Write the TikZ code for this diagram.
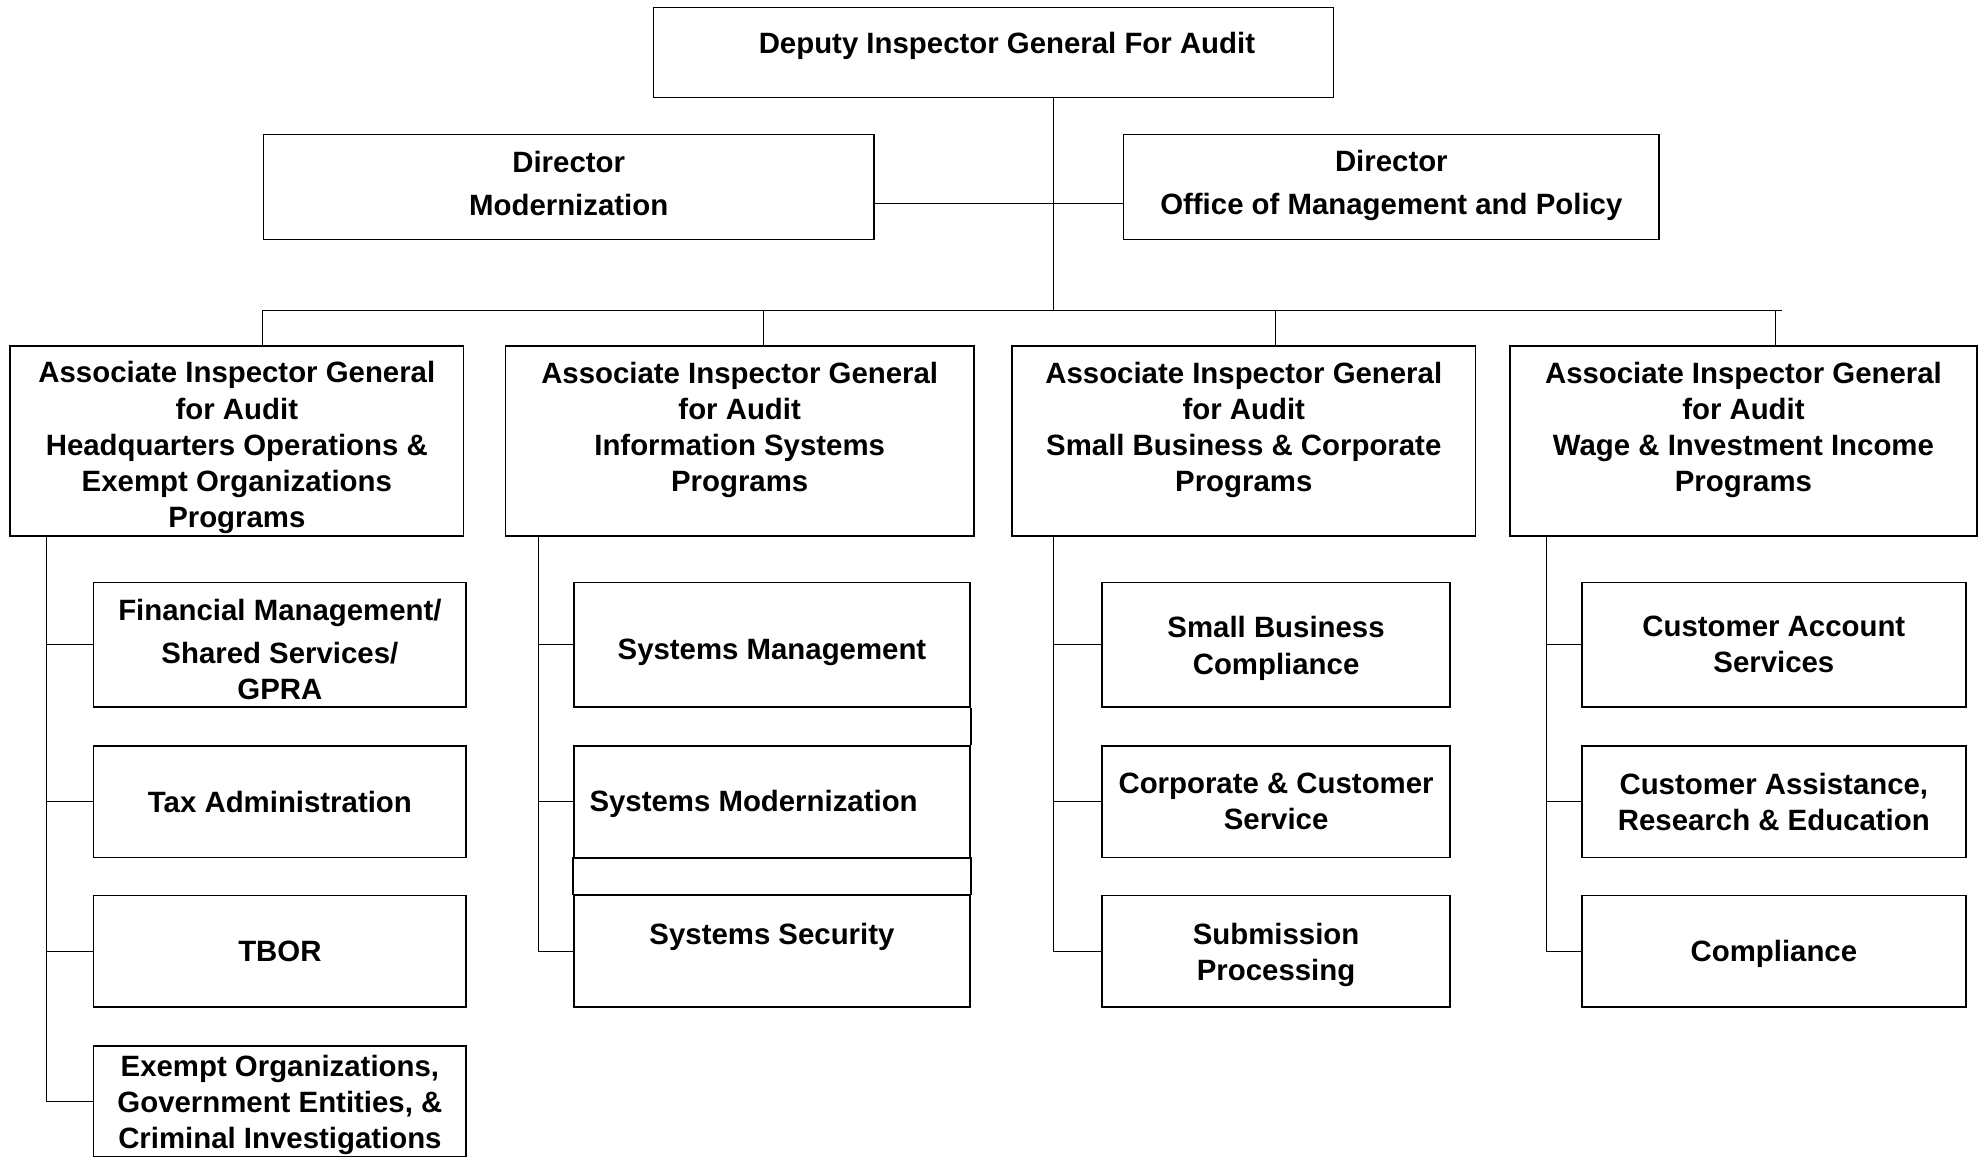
\documentclass[tikz,border=0pt]{standalone}
\usepackage{fontspec}
\setmainfont{Liberation Sans}
\usetikzlibrary{positioning}

\newcommand{\orgfont}{\fontsize{23.2}{28.5}\selectfont\bfseries}
% vertical nudges for the text inside a box
\newcommand{\dropby}[1]{\rule{0pt}{\dimexpr16.6pt+#1+#1\relax}}
\newcommand{\liftby}[1]{\rule[-#1]{0pt}{#1}}

\tikzset{
  orgbox/.style 2 args={draw, line width=1.2pt, align=center, inner sep=0pt,
    font=\orgfont, minimum width=#1, minimum height=#2},
  link/.style={line width=0.9pt}
}

\begin{document}
\begin{tikzpicture}[x=1pt, y=-1pt]
\useasboundingbox (0,0) rectangle (1568,916);

% top rows
\node[orgbox={537pt}{71pt}, text height=10pt, text depth=8.4pt] (dep) at (784.5,41.5) {\hspace*{21pt}Deputy Inspector General For Audit};
\node[orgbox={482pt}{83pt}] (dirmod) at (449,147.5) {Director\\[5.5pt]Modernization\liftby{6pt}};
\node[orgbox={423pt}{83pt}] (dirmgmt) at (1098.5,147.5) {Director\\[5.5pt]Office of Management and Policy\liftby{7pt}};

\node[orgbox={358pt}{150pt}] (aighq) at (187,348) {\dropby{5.5pt}Associate Inspector General\\for Audit\\Headquarters Operations \&\\Exempt Organizations\\Programs};
\node[orgbox={370pt}{150pt}] (aigis) at (584,348) {Associate Inspector General\\for Audit\\Information Systems\\Programs\liftby{22.5pt}};
\node[orgbox={366pt}{150pt}] (aigsb) at (982,348) {Associate Inspector General\\for Audit\\Small Business \& Corporate\\Programs\liftby{22.5pt}};
\node[orgbox={369pt}{150pt}] (aigwi) at (1376.5,348) {Associate Inspector General\\for Audit\\Wage \& Investment Income\\Programs\liftby{22.5pt}};

% divisions
\node[orgbox={294pt}{98pt}] (fm) at (221,509) {\dropby{4pt}Financial Management/\\[5.5pt]Shared Services/\\GPRA};
\node[orgbox={294pt}{88pt}] (tax) at (221,633) {Tax Administration};
\node[orgbox={294pt}{88pt}] (tbor) at (221,751) {TBOR};
\node[orgbox={294pt}{87pt}] (eo) at (221,869.5) {\dropby{3pt}Exempt Organizations,\\Government Entities, \&\\Criminal Investigations};

\node[orgbox={313pt}{98pt}] (sysmgmt) at (609.5,509) {\dropby{6pt}Systems Management};
\node[orgbox={313pt}{88pt}] (sysmod) at (609.5,633) {\dropby{2pt}Systems Modernization\hspace*{29pt}};
\node[orgbox={313pt}{88pt}] (syssec) at (609.5,751) {\dropby{5pt}Systems Security\\\strut};

\node[orgbox={275pt}{98pt}] (sbc) at (1007.5,509) {\dropby{3pt}Small Business\\Compliance};
\node[orgbox={275pt}{88pt}] (ccs) at (1007.5,633) {Corporate \& Customer\\Service};
\node[orgbox={275pt}{88pt}] (subp) at (1007.5,751) {\dropby{3pt}Submission\\Processing};

\node[orgbox={303pt}{98pt}] (cas) at (1400.5,509) {Customer Account\\Services};
\node[orgbox={303pt}{88pt}] (care) at (1400.5,633) {Customer Assistance,\\Research \& Education};
\node[orgbox={303pt}{88pt}] (comp) at (1400.5,751) {\dropby{2pt}Compliance};

% trunk and bus
\coordinate (hub) at (832,245);
\coordinate (dirjoin) at (832,161);
\draw[link] (dep.south -| hub) -- (hub);
\draw[link] (dirmod.east |- dirjoin) -- (dirmgmt.west |- dirjoin);

\coordinate (busw) at (207,245);
\coordinate (buse) at (1407,245);
\draw[link] (busw) -- (buse);
\foreach \n/\x in {aighq/207,aigis/603,aigsb/1007,aigwi/1402}{
  \coordinate (drop) at (\x,245);
  \draw[link] (drop) -- (\n.north -| drop);
}

% branch lines
\coordinate (hqline) at (37,0);
\draw[link] (aighq.south -| hqline) |- (eo.west);
\foreach \b in {fm,tax,tbor}
  \draw[link] (\b.west -| hqline) -- (\b.west);

\coordinate (isline) at (425,0);
\draw[link] (aigis.south -| isline) |- (syssec.west);
\foreach \b in {sysmgmt,sysmod}
  \draw[link] (\b.west -| isline) -- (\b.west);

\coordinate (sbline) at (832,0);
\draw[link] (aigsb.south -| sbline) |- (subp.west);
\foreach \b in {sbc,ccs}
  \draw[link] (\b.west -| sbline) -- (\b.west);

\coordinate (wiline) at (1221,0);
\draw[link] (aigwi.south -| wiline) |- (comp.west);
\foreach \b in {cas,care}
  \draw[link] (\b.west -| wiline) -- (\b.west);

% joined frames in the systems column
\draw[line width=1.2pt] (sysmgmt.south east) -- (sysmod.north east);
\draw[line width=1.2pt] (sysmod.south west) rectangle (syssec.north east);
\end{tikzpicture}
\end{document}
